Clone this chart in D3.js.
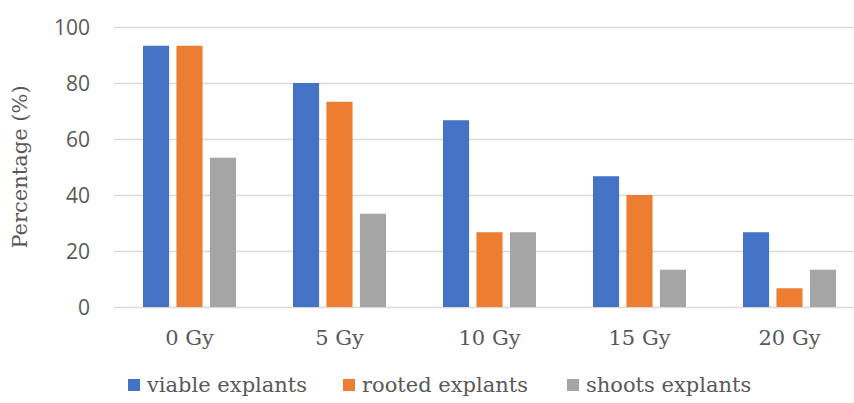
<!DOCTYPE html>
<html lang="en">
<head>
<meta charset="UTF-8">
<title>Explants by dose</title>
<style>
    body { margin: 0; background: #fff; }
    .grid .domain { display: none; }
    .grid line { stroke: #d9d9d9; stroke-width: 1.5; }
    .xaxis .domain, .xaxis line { display: none; }
</style>
</head>
<body>
<svg width="854" height="403"></svg>
<script src="https://d3js.org/d3.v7.min.js"></script>
<script>
    // data
    var doses = ["0 Gy", "5 Gy", "10 Gy", "15 Gy", "20 Gy"];
    var seriesNames = ["viable explants", "rooted explants", "shoots explants"];
    var viable = [93.3, 80, 66.7, 46.7, 26.7];
    var rooted = [93.3, 73.3, 26.7, 40, 6.7];
    var shoots = [53.3, 33.3, 26.7, 13.3, 13.3];
    var yTicks = [0, 20, 40, 60, 80, 100];

    var colors = ["#4472c4", "#ed7d31", "#a5a5a5"];
    var values = [viable, rooted, shoots];
    var serif = "DejaVu Serif, serif";

    var svg = d3.select("svg");

    var x = d3.scaleBand()
        .domain(doses)
        .range([114.5, 864.5])
        .paddingInner(0.38)
        .paddingOuter(0.19);

    var xs = d3.scaleBand()
        .domain(seriesNames)
        .range([0, x.bandwidth()])
        .paddingInner(0.22);

    var y = d3.scaleLinear()
        .domain([0, 100])
        .range([307, 27]);

    var color = d3.scaleOrdinal().domain(seriesNames).range(colors);

    // gridlines
    svg.append("g")
        .attr("class", "grid")
        .attr("transform", "translate(114,0)")
        .call(d3.axisLeft(y).tickValues(yTicks).tickSize(-760).tickFormat(""));

    // y tick labels
    svg.append("g")
        .selectAll("text")
        .data(yTicks)
        .enter().append("text")
        .attr("x", 90)
        .attr("y", function(d){ return y(d); })
        .attr("dy", "0.36em")
        .attr("text-anchor", "end")
        .attr("font-family", "Open Sans, sans-serif")
        .attr("font-size", 21)
        .attr("fill", "#595959")
        .text(function(d){ return d; });

    // bars
    var rows = doses.map(function(d, i){
        return { dose: d, vals: seriesNames.map(function(s, j){ return { key: s, value: values[j][i] }; }) };
    });

    svg.append("g")
        .selectAll("g")
        .data(rows)
        .enter().append("g")
        .attr("transform", function(d){ return "translate(" + x(d.dose) + ",0)"; })
        .selectAll("rect")
        .data(function(d){ return d.vals; })
        .enter().append("rect")
        .attr("x", function(d){ return xs(d.key); })
        .attr("y", function(d){ return y(d.value); })
        .attr("width", xs.bandwidth())
        .attr("height", function(d){ return y(0) - y(d.value); })
        .attr("fill", function(d){ return color(d.key); });

    // x labels
    var xa = svg.append("g")
        .attr("class", "xaxis")
        .attr("transform", "translate(0,307)")
        .call(d3.axisBottom(x).tickSize(0).tickPadding(23));
    xa.selectAll("text")
        .attr("font-family", serif)
        .attr("font-size", 21)
        .attr("fill", "#595959");

    // y title
    svg.append("text")
        .attr("transform", "translate(27,167) rotate(-90)")
        .attr("text-anchor", "middle")
        .attr("font-family", serif)
        .attr("font-size", 21)
        .attr("fill", "#595959")
        .text("Percentage (%)");

    // legend
    var legendX = [128, 343, 567];
    var legend = svg.append("g")
        .selectAll("g")
        .data(seriesNames)
        .enter().append("g")
        .attr("transform", function(d, i){ return "translate(" + legendX[i] + ",379)"; });
    legend.append("rect")
        .attr("width", 12)
        .attr("height", 12)
        .attr("fill", color);
    legend.append("text")
        .attr("x", 19)
        .attr("y", 6)
        .attr("dy", "0.35em")
        .attr("font-family", serif)
        .attr("font-size", 21)
        .attr("fill", "#595959")
        .text(function(d){ return d; });
</script>
</body>
</html>
